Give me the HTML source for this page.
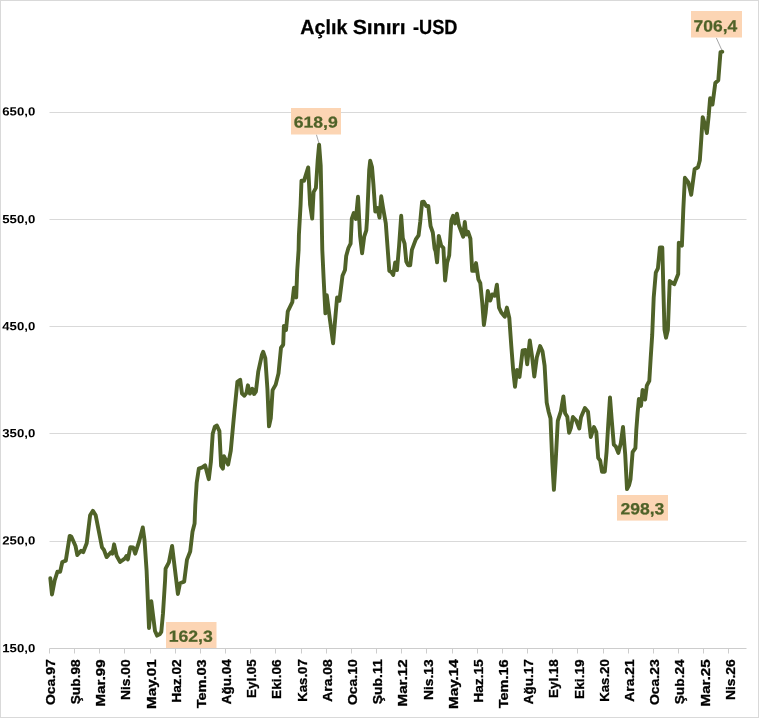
<!DOCTYPE html>
<html lang="tr"><head><meta charset="utf-8"><title>Açlık Sınırı -USD</title>
<style>html,body{margin:0;padding:0;background:#fff}body{width:759px;height:718px;overflow:hidden}svg{display:block;will-change:transform}text{font-family:"Liberation Sans",sans-serif;font-weight:bold}</style></head><body>
<svg width="759" height="718" viewBox="0 0 759 718">
<rect x="0" y="0" width="759" height="718" fill="#fff"/>
<rect x="0.5" y="0.5" width="758" height="717" fill="none" stroke="#D9D9D9" stroke-width="1"/>
<line x1="49.5" y1="112.5" x2="746.5" y2="112.5" stroke="#D9D9D9" stroke-width="1"/>
<line x1="49.5" y1="219.5" x2="746.5" y2="219.5" stroke="#D9D9D9" stroke-width="1"/>
<line x1="49.5" y1="326.5" x2="746.5" y2="326.5" stroke="#D9D9D9" stroke-width="1"/>
<line x1="49.5" y1="433.5" x2="746.5" y2="433.5" stroke="#D9D9D9" stroke-width="1"/>
<line x1="49.5" y1="541.5" x2="746.5" y2="541.5" stroke="#D9D9D9" stroke-width="1"/>
<line x1="49.5" y1="648.5" x2="746.5" y2="648.5" stroke="#CDCDCD" stroke-width="1"/>
<line x1="49.50" y1="648.5" x2="49.50" y2="653.5" stroke="#CDCDCD" stroke-width="1"/>
<line x1="74.50" y1="648.5" x2="74.50" y2="653.5" stroke="#CDCDCD" stroke-width="1"/>
<line x1="99.50" y1="648.5" x2="99.50" y2="653.5" stroke="#CDCDCD" stroke-width="1"/>
<line x1="124.50" y1="648.5" x2="124.50" y2="653.5" stroke="#CDCDCD" stroke-width="1"/>
<line x1="150.50" y1="648.5" x2="150.50" y2="653.5" stroke="#CDCDCD" stroke-width="1"/>
<line x1="175.50" y1="648.5" x2="175.50" y2="653.5" stroke="#CDCDCD" stroke-width="1"/>
<line x1="200.50" y1="648.5" x2="200.50" y2="653.5" stroke="#CDCDCD" stroke-width="1"/>
<line x1="225.50" y1="648.5" x2="225.50" y2="653.5" stroke="#CDCDCD" stroke-width="1"/>
<line x1="250.50" y1="648.5" x2="250.50" y2="653.5" stroke="#CDCDCD" stroke-width="1"/>
<line x1="275.50" y1="648.5" x2="275.50" y2="653.5" stroke="#CDCDCD" stroke-width="1"/>
<line x1="301.50" y1="648.5" x2="301.50" y2="653.5" stroke="#CDCDCD" stroke-width="1"/>
<line x1="326.50" y1="648.5" x2="326.50" y2="653.5" stroke="#CDCDCD" stroke-width="1"/>
<line x1="351.50" y1="648.5" x2="351.50" y2="653.5" stroke="#CDCDCD" stroke-width="1"/>
<line x1="376.50" y1="648.5" x2="376.50" y2="653.5" stroke="#CDCDCD" stroke-width="1"/>
<line x1="401.50" y1="648.5" x2="401.50" y2="653.5" stroke="#CDCDCD" stroke-width="1"/>
<line x1="426.50" y1="648.5" x2="426.50" y2="653.5" stroke="#CDCDCD" stroke-width="1"/>
<line x1="452.50" y1="648.5" x2="452.50" y2="653.5" stroke="#CDCDCD" stroke-width="1"/>
<line x1="477.50" y1="648.5" x2="477.50" y2="653.5" stroke="#CDCDCD" stroke-width="1"/>
<line x1="502.50" y1="648.5" x2="502.50" y2="653.5" stroke="#CDCDCD" stroke-width="1"/>
<line x1="527.50" y1="648.5" x2="527.50" y2="653.5" stroke="#CDCDCD" stroke-width="1"/>
<line x1="552.50" y1="648.5" x2="552.50" y2="653.5" stroke="#CDCDCD" stroke-width="1"/>
<line x1="577.50" y1="648.5" x2="577.50" y2="653.5" stroke="#CDCDCD" stroke-width="1"/>
<line x1="603.50" y1="648.5" x2="603.50" y2="653.5" stroke="#CDCDCD" stroke-width="1"/>
<line x1="628.50" y1="648.5" x2="628.50" y2="653.5" stroke="#CDCDCD" stroke-width="1"/>
<line x1="653.50" y1="648.5" x2="653.50" y2="653.5" stroke="#CDCDCD" stroke-width="1"/>
<line x1="678.50" y1="648.5" x2="678.50" y2="653.5" stroke="#CDCDCD" stroke-width="1"/>
<line x1="703.50" y1="648.5" x2="703.50" y2="653.5" stroke="#CDCDCD" stroke-width="1"/>
<line x1="728.50" y1="648.5" x2="728.50" y2="653.5" stroke="#CDCDCD" stroke-width="1"/>
<text transform="translate(0,33.7) rotate(0.05)" font-size="20.4" fill="#000" stroke="#000" stroke-width="0.25"><tspan x="300.30" textLength="47.20" lengthAdjust="spacingAndGlyphs">Açlık</tspan> <tspan x="352.70" textLength="53.00" lengthAdjust="spacingAndGlyphs">Sınırı</tspan> <tspan x="413.00" textLength="44.50" lengthAdjust="spacingAndGlyphs">-USD</tspan></text>
<text transform="translate(2.3,115.50) rotate(0.05)" font-size="11.9" fill="#000" textLength="32.9" lengthAdjust="spacingAndGlyphs">650,0</text>
<text transform="translate(2.3,223.30) rotate(0.05)" font-size="11.9" fill="#000" textLength="32.9" lengthAdjust="spacingAndGlyphs">550,0</text>
<text transform="translate(2.3,330.35) rotate(0.05)" font-size="11.9" fill="#000" textLength="32.9" lengthAdjust="spacingAndGlyphs">450,0</text>
<text transform="translate(2.3,437.35) rotate(0.05)" font-size="11.9" fill="#000" textLength="32.9" lengthAdjust="spacingAndGlyphs">350,0</text>
<text transform="translate(2.3,544.50) rotate(0.05)" font-size="11.9" fill="#000" textLength="32.9" lengthAdjust="spacingAndGlyphs">250,0</text>
<text transform="translate(2.3,652.35) rotate(0.05)" font-size="11.9" fill="#000" textLength="32.9" lengthAdjust="spacingAndGlyphs">150,0</text>
<text transform="translate(54.77,659.3) rotate(-90)" font-size="13.2" text-anchor="end" fill="#000" stroke="#000" stroke-width="0.3" textLength="45.8" lengthAdjust="spacingAndGlyphs">Oca.97</text>
<text transform="translate(79.96,659.3) rotate(-90)" font-size="13.2" text-anchor="end" fill="#000" stroke="#000" stroke-width="0.3" textLength="45.0" lengthAdjust="spacingAndGlyphs">Şub.98</text>
<text transform="translate(105.14,659.3) rotate(-90)" font-size="13.2" text-anchor="end" fill="#000" stroke="#000" stroke-width="0.3" textLength="47.2" lengthAdjust="spacingAndGlyphs">Mar.99</text>
<text transform="translate(130.33,659.3) rotate(-90)" font-size="13.2" text-anchor="end" fill="#000" stroke="#000" stroke-width="0.3" textLength="40.7" lengthAdjust="spacingAndGlyphs">Nis.00</text>
<text transform="translate(155.51,659.3) rotate(-90)" font-size="13.2" text-anchor="end" fill="#000" stroke="#000" stroke-width="0.3" textLength="49.7" lengthAdjust="spacingAndGlyphs">May.01</text>
<text transform="translate(180.70,659.3) rotate(-90)" font-size="13.2" text-anchor="end" fill="#000" stroke="#000" stroke-width="0.3" textLength="43.4" lengthAdjust="spacingAndGlyphs">Haz.02</text>
<text transform="translate(205.89,659.3) rotate(-90)" font-size="13.2" text-anchor="end" fill="#000" stroke="#000" stroke-width="0.3" textLength="49.0" lengthAdjust="spacingAndGlyphs">Tem.03</text>
<text transform="translate(231.07,659.3) rotate(-90)" font-size="13.2" text-anchor="end" fill="#000" stroke="#000" stroke-width="0.3" textLength="44.9" lengthAdjust="spacingAndGlyphs">Ağu.04</text>
<text transform="translate(256.26,659.3) rotate(-90)" font-size="13.2" text-anchor="end" fill="#000" stroke="#000" stroke-width="0.3" textLength="38.6" lengthAdjust="spacingAndGlyphs">Eyl.05</text>
<text transform="translate(281.44,659.3) rotate(-90)" font-size="13.2" text-anchor="end" fill="#000" stroke="#000" stroke-width="0.3" textLength="39.6" lengthAdjust="spacingAndGlyphs">Eki.06</text>
<text transform="translate(306.63,659.3) rotate(-90)" font-size="13.2" text-anchor="end" fill="#000" stroke="#000" stroke-width="0.3" textLength="42.4" lengthAdjust="spacingAndGlyphs">Kas.07</text>
<text transform="translate(331.82,659.3) rotate(-90)" font-size="13.2" text-anchor="end" fill="#000" stroke="#000" stroke-width="0.3" textLength="42.4" lengthAdjust="spacingAndGlyphs">Ara.08</text>
<text transform="translate(357.00,659.3) rotate(-90)" font-size="13.2" text-anchor="end" fill="#000" stroke="#000" stroke-width="0.3" textLength="45.8" lengthAdjust="spacingAndGlyphs">Oca.10</text>
<text transform="translate(382.19,659.3) rotate(-90)" font-size="13.2" text-anchor="end" fill="#000" stroke="#000" stroke-width="0.3" textLength="45.0" lengthAdjust="spacingAndGlyphs">Şub.11</text>
<text transform="translate(407.37,659.3) rotate(-90)" font-size="13.2" text-anchor="end" fill="#000" stroke="#000" stroke-width="0.3" textLength="47.2" lengthAdjust="spacingAndGlyphs">Mar.12</text>
<text transform="translate(432.56,659.3) rotate(-90)" font-size="13.2" text-anchor="end" fill="#000" stroke="#000" stroke-width="0.3" textLength="40.7" lengthAdjust="spacingAndGlyphs">Nis.13</text>
<text transform="translate(457.74,659.3) rotate(-90)" font-size="13.2" text-anchor="end" fill="#000" stroke="#000" stroke-width="0.3" textLength="49.7" lengthAdjust="spacingAndGlyphs">May.14</text>
<text transform="translate(482.93,659.3) rotate(-90)" font-size="13.2" text-anchor="end" fill="#000" stroke="#000" stroke-width="0.3" textLength="43.4" lengthAdjust="spacingAndGlyphs">Haz.15</text>
<text transform="translate(508.12,659.3) rotate(-90)" font-size="13.2" text-anchor="end" fill="#000" stroke="#000" stroke-width="0.3" textLength="49.0" lengthAdjust="spacingAndGlyphs">Tem.16</text>
<text transform="translate(533.30,659.3) rotate(-90)" font-size="13.2" text-anchor="end" fill="#000" stroke="#000" stroke-width="0.3" textLength="44.9" lengthAdjust="spacingAndGlyphs">Ağu.17</text>
<text transform="translate(558.49,659.3) rotate(-90)" font-size="13.2" text-anchor="end" fill="#000" stroke="#000" stroke-width="0.3" textLength="38.6" lengthAdjust="spacingAndGlyphs">Eyl.18</text>
<text transform="translate(583.67,659.3) rotate(-90)" font-size="13.2" text-anchor="end" fill="#000" stroke="#000" stroke-width="0.3" textLength="39.6" lengthAdjust="spacingAndGlyphs">Eki.19</text>
<text transform="translate(608.86,659.3) rotate(-90)" font-size="13.2" text-anchor="end" fill="#000" stroke="#000" stroke-width="0.3" textLength="42.4" lengthAdjust="spacingAndGlyphs">Kas.20</text>
<text transform="translate(634.05,659.3) rotate(-90)" font-size="13.2" text-anchor="end" fill="#000" stroke="#000" stroke-width="0.3" textLength="42.4" lengthAdjust="spacingAndGlyphs">Ara.21</text>
<text transform="translate(659.23,659.3) rotate(-90)" font-size="13.2" text-anchor="end" fill="#000" stroke="#000" stroke-width="0.3" textLength="45.8" lengthAdjust="spacingAndGlyphs">Oca.23</text>
<text transform="translate(684.42,659.3) rotate(-90)" font-size="13.2" text-anchor="end" fill="#000" stroke="#000" stroke-width="0.3" textLength="45.0" lengthAdjust="spacingAndGlyphs">Şub.24</text>
<text transform="translate(709.60,659.3) rotate(-90)" font-size="13.2" text-anchor="end" fill="#000" stroke="#000" stroke-width="0.3" textLength="47.2" lengthAdjust="spacingAndGlyphs">Mar.25</text>
<text transform="translate(734.79,659.3) rotate(-90)" font-size="13.2" text-anchor="end" fill="#000" stroke="#000" stroke-width="0.3" textLength="40.7" lengthAdjust="spacingAndGlyphs">Nis.26</text>
<line x1="316.4" y1="134.6" x2="319.2" y2="144" stroke="#A6A6A6" stroke-width="1"/>
<line x1="716.3" y1="37.9" x2="722" y2="50.5" stroke="#A6A6A6" stroke-width="1"/>
<path d="M50.3,578.3 L52.0,594.5 L54.6,580.8 L57.4,571.7 L60.2,571.7 L62.3,562.0 L65.8,560.6 L69.7,535.9 L71.3,536.5 L75.5,546.0 L77.3,555.0 L81.1,550.8 L83.2,552.2 L86.7,543.2 L90.1,515.3 L92.9,510.9 L95.7,515.3 L102.0,547.4 L104.0,550.0 L106.6,557.1 L111.0,552.2 L112.4,553.6 L114.1,544.3 L116.6,555.7 L120.1,562.0 L125.0,558.4 L126.4,556.0 L127.9,559.4 L130.3,547.3 L133.2,547.5 L135.2,553.7 L138.9,542.2 L142.8,527.5 L144.5,540.0 L146.6,570.7 L149.0,628.0 L151.3,601.3 L155.0,631.0 L157.1,635.6 L159.6,634.3 L161.3,631.8 L163.0,613.4 L165.1,580.0 L165.6,568.6 L168.9,562.4 L172.1,545.9 L175.1,570.7 L177.9,594.0 L180.0,583.2 L184.2,581.6 L187.0,559.6 L190.2,551.5 L192.5,531.7 L194.6,523.4 L195.3,505.0 L196.7,482.7 L198.8,468.7 L202.3,467.4 L205.1,465.3 L208.8,479.2 L210.9,461.8 L212.7,433.9 L214.8,426.7 L216.9,425.6 L219.4,431.1 L221.1,466.0 L222.9,468.7 L223.9,456.2 L228.1,464.6 L230.8,450.6 L233.6,420.0 L234.6,409.6 L237.4,381.8 L240.2,379.7 L242.0,393.6 L244.4,395.7 L246.5,392.9 L247.9,385.3 L249.9,393.6 L252.3,388.7 L254.1,394.0 L255.9,391.5 L258.3,371.3 L261.8,355.3 L263.2,351.8 L265.3,358.1 L267.4,388.7 L269.0,426.4 L270.8,418.0 L272.6,390.1 L275.7,384.6 L278.5,373.4 L281.0,347.7 L283.2,344.8 L283.9,325.9 L286.0,330.1 L287.8,311.3 L292.3,302.2 L294.0,287.6 L296.2,297.4 L297.2,270.9 L298.6,250.0 L298.9,235.0 L300.6,204.6 L301.5,180.6 L304.0,180.8 L308.2,167.4 L310.1,204.6 L312.2,218.6 L313.6,192.1 L315.9,187.9 L317.7,160.1 L319.1,144.7 L320.7,165.6 L321.5,204.6 L322.0,235.0 L322.3,250.0 L323.6,277.9 L325.4,313.4 L326.8,295.3 L329.9,319.6 L333.1,343.3 L335.5,315.5 L337.1,297.4 L339.4,300.8 L342.5,275.8 L345.0,270.0 L346.2,256.0 L348.4,248.0 L350.6,243.6 L351.8,218.6 L353.8,213.0 L355.9,219.0 L358.0,196.8 L360.1,236.0 L362.1,253.2 L364.2,236.7 L366.3,230.4 L367.1,218.6 L369.2,170.0 L370.2,160.8 L372.0,167.0 L373.4,184.0 L375.3,211.6 L377.4,208.0 L379.5,217.5 L381.2,196.3 L383.1,208.1 L385.8,223.4 L389.3,270.8 L391.4,272.2 L393.2,275.0 L395.2,262.4 L397.0,270.1 L399.1,245.7 L401.2,215.8 L402.8,238.1 L404.6,243.6 L406.3,261.7 L408.1,265.2 L410.2,265.2 L411.9,249.9 L415.8,239.4 L418.6,235.3 L420.2,222.0 L422.1,202.0 L423.8,201.8 L426.2,206.0 L428.3,206.0 L430.6,226.2 L432.8,232.5 L434.6,248.5 L435.6,251.3 L437.1,262.4 L438.8,236.0 L441.2,245.7 L443.4,247.8 L445.1,280.5 L447.2,262.4 L449.2,255.5 L451.3,220.6 L453.1,215.8 L455.1,223.4 L456.9,213.7 L459.0,225.5 L463.2,236.7 L464.8,222.0 L466.2,234.6 L468.1,231.8 L470.4,238.7 L472.2,270.8 L474.3,270.8 L476.0,263.1 L478.4,279.4 L480.3,283.2 L482.3,303.4 L483.9,325.0 L485.6,313.2 L487.8,290.9 L490.2,300.6 L492.3,294.4 L494.8,295.8 L496.9,284.6 L499.0,307.6 L501.3,312.5 L504.8,316.7 L506.9,307.6 L509.3,318.0 L511.3,346.0 L513.2,370.6 L515.0,386.7 L517.0,369.9 L519.5,376.9 L522.6,350.4 L525.4,349.9 L527.2,364.2 L529.8,340.5 L532.0,356.0 L534.3,376.5 L536.8,357.5 L540.1,346.1 L542.5,351.3 L544.6,365.6 L546.7,402.7 L548.7,412.0 L550.5,418.4 L552.3,462.7 L553.9,489.8 L555.6,462.7 L557.8,420.9 L560.9,411.1 L563.4,396.4 L565.1,413.2 L567.3,416.7 L569.1,432.7 L570.9,427.9 L572.9,417.0 L576.2,420.5 L579.3,428.5 L581.0,417.3 L584.9,408.1 L588.0,411.7 L589.4,425.0 L590.8,437.0 L594.0,427.1 L596.3,432.0 L598.2,457.8 L600.2,460.6 L602.0,471.7 L604.8,471.7 L606.6,451.5 L608.2,425.1 L610.0,397.5 L611.7,419.5 L613.8,444.6 L615.9,446.7 L618.3,452.9 L620.8,443.2 L623.0,427.0 L625.2,454.3 L627.0,489.1 L629.1,485.0 L630.5,479.4 L632.6,452.2 L635.4,448.1 L636.3,430.0 L637.6,413.0 L638.9,399.0 L641.0,405.9 L642.6,389.9 L645.1,399.6 L646.8,385.7 L649.3,380.8 L650.7,357.9 L652.2,335.0 L653.7,297.7 L655.8,272.6 L657.9,268.4 L659.9,247.5 L662.3,247.5 L663.4,290.7 L664.5,329.7 L666.0,337.7 L667.9,329.7 L669.7,281.0 L674.2,284.3 L678.2,274.0 L678.8,242.6 L681.9,245.6 L683.3,209.6 L684.9,177.8 L688.4,182.5 L691.2,194.8 L694.6,169.2 L698.0,167.2 L699.8,160.5 L701.3,139.0 L702.7,117.1 L704.8,124.1 L706.9,133.1 L708.7,115.7 L710.1,98.3 L712.5,104.6 L715.3,83.0 L718.3,80.2 L720.5,52.2 L722.3,51.8" fill="none" stroke="#4F6228" stroke-width="3.9" stroke-linejoin="round" stroke-linecap="round"/>
<rect x="291.0" y="108.0" width="50.0" height="26.5" fill="#FCD5B4"/>
<text transform="translate(293.70,127.50) rotate(0.05)" font-size="15.7" fill="#4F6228" stroke="#4F6228" stroke-width="0.25" textLength="44.1" lengthAdjust="spacingAndGlyphs">618,9</text>
<rect x="691.0" y="11.0" width="51.0" height="26.5" fill="#FCD5B4"/>
<text transform="translate(693.50,31.50) rotate(0.05)" font-size="16.3" fill="#4F6228" stroke="#4F6228" stroke-width="0.25" textLength="43.7" lengthAdjust="spacingAndGlyphs">706,4</text>
<rect x="617.0" y="495.0" width="51.0" height="25.6" fill="#FCD5B4"/>
<text transform="translate(620.50,514.20) rotate(0.05)" font-size="16.0" fill="#4F6228" stroke="#4F6228" stroke-width="0.25" textLength="43.8" lengthAdjust="spacingAndGlyphs">298,3</text>
<rect x="166.0" y="622.0" width="50.5" height="26.0" fill="#FCD5B4"/>
<text transform="translate(168.70,641.80) rotate(0.05)" font-size="16.0" fill="#4F6228" stroke="#4F6228" stroke-width="0.25" textLength="44.0" lengthAdjust="spacingAndGlyphs">162,3</text>
</svg></body></html>
